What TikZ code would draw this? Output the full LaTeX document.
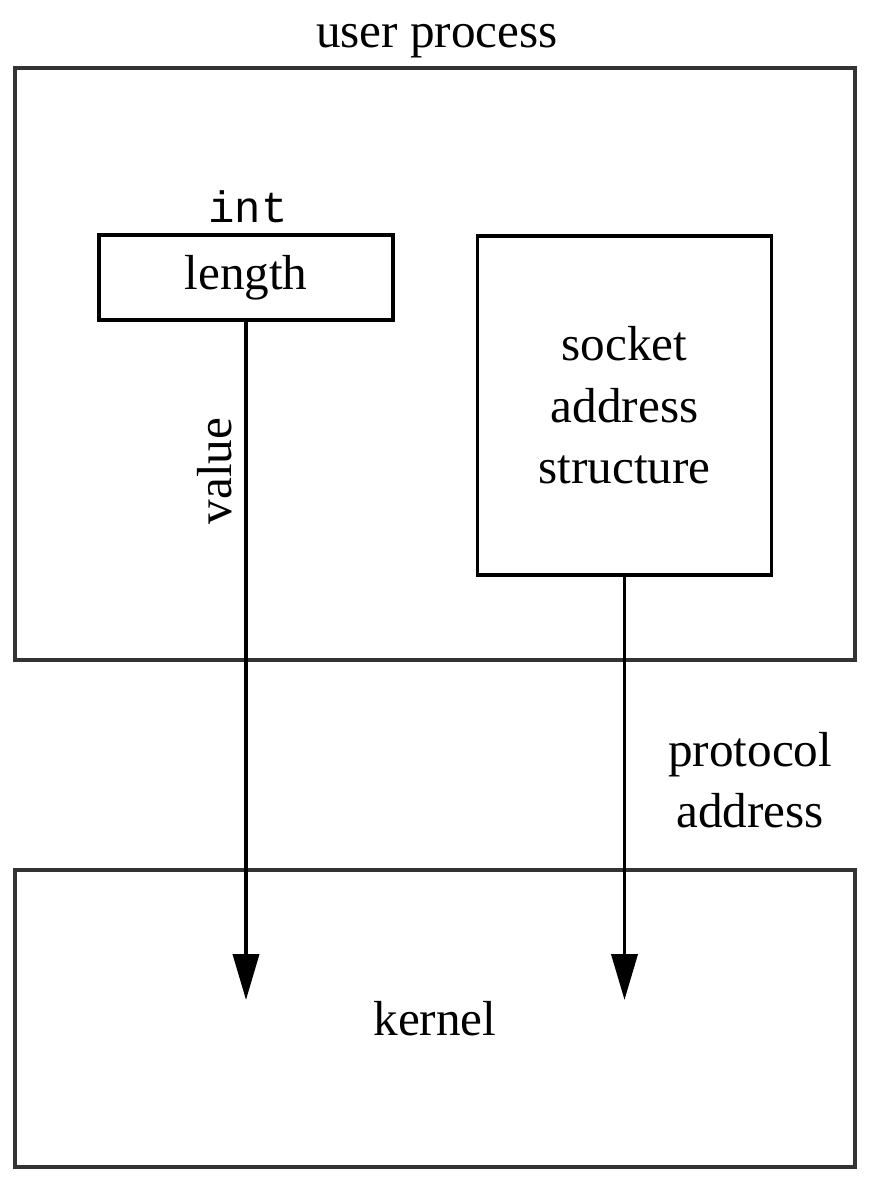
\documentclass[tikz,border=0pt]{standalone}
\usepackage{fontspec}
\setmainfont{Liberation Serif}
\setmonofont{Liberation Mono}
\usetikzlibrary{arrows.meta,positioning}

\begin{document}
\begin{tikzpicture}[
  area/.style={
    rectangle, draw=black!80, line width=1.1pt,
    minimum width=8.40cm, inner sep=0pt,
    font=\fontsize{14}{17.5}\selectfont
  },
  block/.style={
    rectangle, draw, line width=1.1pt,
    minimum width=2.94cm, inner sep=0pt,
    align=center, font=\fontsize{14}{17.5}\selectfont
  },
  arrow/.style={-{Triangle[length=0.46cm,width=0.26cm]}, line width=1.1pt},
  tag/.style={font=\fontsize{14}{17.5}\selectfont, align=center}
]
\useasboundingbox (0,0) rectangle (8.92,-11.86);

% Process side
\node[area, minimum height=5.92cm] (user) at (4.35,-3.64) {};
\node[tag] (userlbl) at (4.37,-0.41) {user process};

\node[block, minimum height=0.85cm] (length) at (2.46,-2.775) {length};
\node[tag, font=\ttfamily\fontsize{12.5}{15}\selectfont] (int) at (2.48,-2.07) {int};
\node[block, minimum height=3.39cm] (socket) at (6.245,-4.055) {socket\\address\\structure};

% Kernel side
\node[area, minimum height=2.97cm] (kernel) at (4.35,-10.185) {kernel};

% Arrows
\coordinate (lenend) at (2.46,-10.0);
\coordinate (sockend) at (6.245,-10.0);
\draw[arrow] (length.south) -- (lenend)
  node[tag, pos=0.22, rotate=90, above, inner sep=1.2mm] {value};
\draw[arrow] (socket.south) -- (sockend)
  node[tag, pos=0.48, right=0.3cm] {protocol\\address};

\end{tikzpicture}
\end{document}
